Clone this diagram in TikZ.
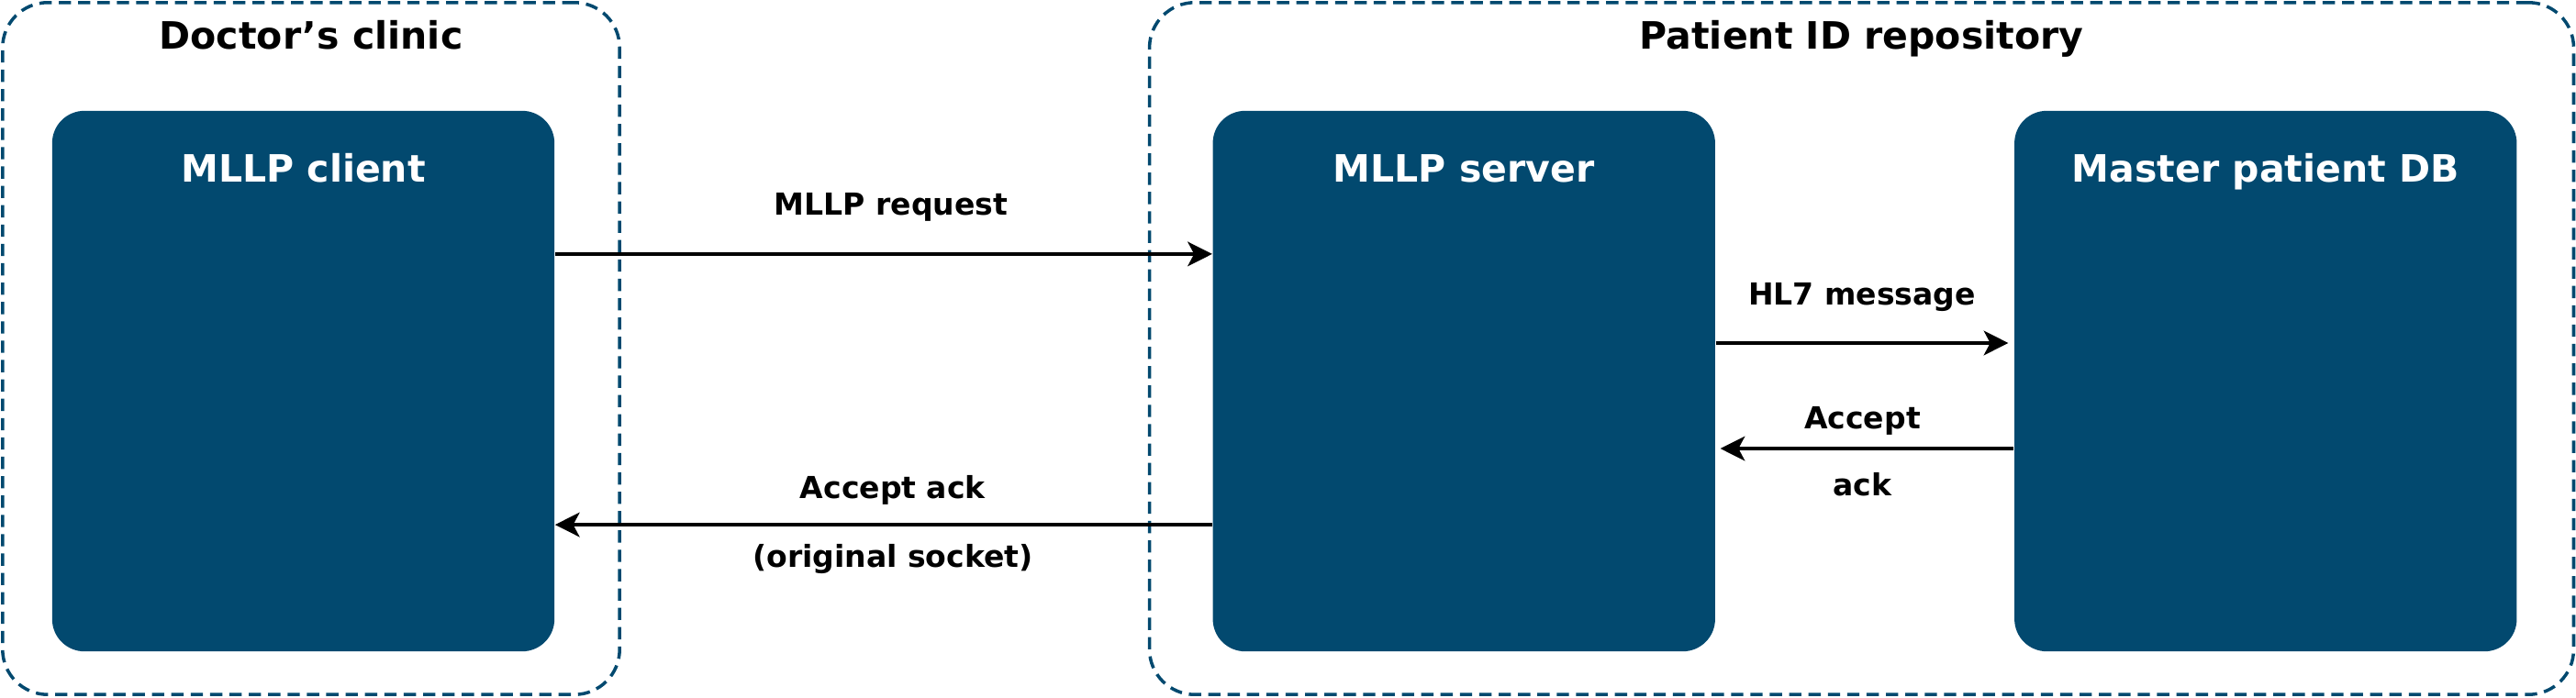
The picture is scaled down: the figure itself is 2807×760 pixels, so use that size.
\documentclass[tikz,border=0pt]{standalone}
\usepackage{fontspec}
\setmainfont{DejaVu Sans}
\usepackage{tikz}
\usetikzlibrary{arrows.meta}
\definecolor{hlblue}{RGB}{2,73,111}

\begin{document}
\begin{tikzpicture}[x=0.01cm,y=0.01cm]
        \tikzstyle{zone}=[draw=hlblue,line width=1pt,dash pattern=on 3.8pt off 2.2pt,rounded corners=14pt,inner sep=0pt,minimum height=7.54cm]
        \tikzstyle{main node}=[fill=hlblue,rounded corners=10pt,inner sep=0pt,minimum width=5.47cm,minimum height=5.89cm]
        \tikzstyle{title}=[anchor=base,font=\fontsize{11.67pt}{14pt}\selectfont\bfseries]
        \tikzstyle{box text}=[title,text=white]
        \tikzstyle{msg}=[anchor=base,font=\fontsize{9.39pt}{11pt}\selectfont\bfseries]
        \tikzstyle{flow}=[line width=0.95pt,-{Stealth[length=7.6pt,width=7.6pt,inset=2pt]}]
        \useasboundingbox (0,0) rectangle (2807,760);

        \node[zone,minimum width=6.72cm] (clinic) at (339,380) {};
        \node[zone,minimum width=15.51cm] (repo) at (2028.5,380) {};
        \node[title] (clinictitle) at ([yshift=-0.52cm]clinic.north) {Doctor’s clinic};
        \node[title] (repotitle) at ([yshift=-0.52cm]repo.north) {Patient ID repository};

        \node[main node] (cli) at (330.5,344.5) {};
        \node[main node,node distance=12.64cm] (srv) [right of=cli] {};
        \node[main node,node distance=8.73cm] (db) [right of=srv] {};
        \node[box text] (clitext) at ([yshift=-0.78cm]cli.north) {MLLP client};
        \node[box text] (srvtext) at ([yshift=-0.78cm]srv.north) {MLLP server};
        \node[box text] (dbtext) at ([yshift=-0.78cm]db.north) {Master patient DB};

        \draw[flow] ([yshift=1.385cm]cli.east) -- node[msg,midway,yshift=0.42cm,xshift=0.08cm] (reqtext) {MLLP request} ([yshift=1.385cm]srv.west);
        \draw[flow] ([yshift=0.415cm]srv.east) -- node[msg,midway,yshift=0.41cm] (hltext) {HL7 message} ([xshift=-0.06cm,yshift=0.415cm]db.west);
        \draw[flow] ([yshift=-0.735cm]db.west) -- node[msg,midway,yshift=0.22cm,xshift=-0.05cm] (acctext) {Accept} node[msg,midway,yshift=-0.51cm,xshift=-0.05cm] (acktext) {ack} ([xshift=0.05cm,yshift=-0.735cm]srv.east);
        \draw[flow] ([yshift=-1.565cm]srv.west) -- node[msg,midway,yshift=0.29cm,xshift=0.1cm] (backtext) {Accept ack} node[msg,midway,yshift=-0.46cm,xshift=0.1cm] (socktext) {(original socket)} ([yshift=-1.565cm]cli.east);
    \end{tikzpicture}
\end{document}
